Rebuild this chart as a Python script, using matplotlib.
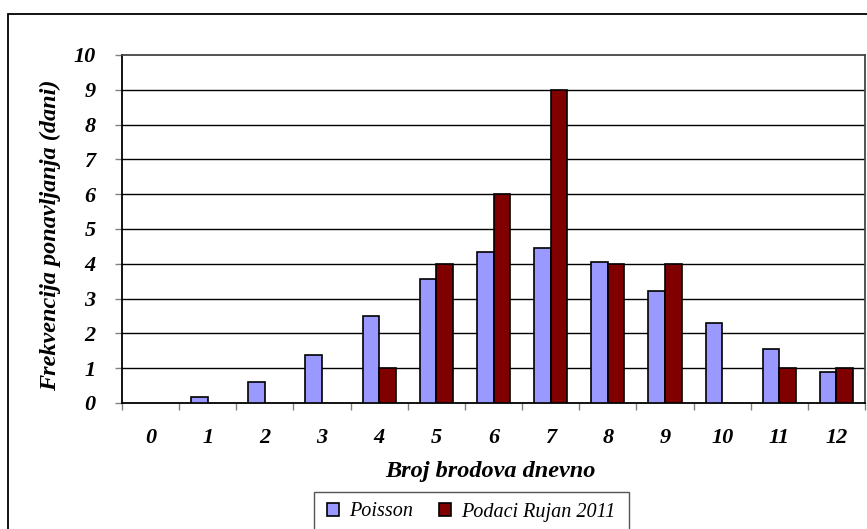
import matplotlib
matplotlib.use("Agg")
import matplotlib.pyplot as plt
import matplotlib.patches as mpatches
import numpy as np

# DATA
categories = ["0", "1", "2", "3", "4", "5", "6", "7", "8", "9", "10", "11", "12"]
poisson = [0.0, 0.18, 0.61, 1.37, 2.5, 3.56, 4.35, 4.45, 4.04, 3.21, 2.31, 1.54, 0.89]
podaci = [0, 0, 0, 0, 1, 4, 6, 9, 4, 4, 0, 1, 1]
yticks = [0, 1, 2, 3, 4, 5, 6, 7, 8, 9, 10]

W, H = 867, 529
fig = plt.figure(figsize=(W / 100, H / 100), dpi=100)

# plot area in pixels
left, top, right, bottom = 122, 55, 865, 403
ax = fig.add_axes([left / W, 1 - bottom / H, (right - left) / W, (bottom - top) / H])

x = np.arange(len(categories))
bw = 0.29
p = np.array(poisson)
d = np.array(podaci, dtype=float)
# zero height bars are not drawn (no edge line on the axis)
ax.bar((x - bw / 2)[p > 0], p[p > 0], bw, color="#9999FF", edgecolor="black", linewidth=1.2, zorder=3)
ax.bar((x + bw / 2)[d > 0], d[d > 0], bw, color="#800000", edgecolor="black", linewidth=1.2, zorder=3)

ax.set_xlim(-0.5, len(categories) - 0.5)
ax.set_ylim(0, 10)

# gridlines
for yv in yticks[1:-1]:
    ax.axhline(yv, color="black", lw=1, zorder=1)

tick_font = dict(family="Liberation Serif", weight="bold", style="italic", size=16)
ax.set_yticks(yticks)
ax.set_yticklabels([str(v) for v in yticks], fontdict=tick_font)
ax.tick_params(axis="y", length=5, width=1, pad=14, color="gray")

ax.set_xticks(x)
ax.set_xticklabels(categories, fontdict=tick_font)
ax.tick_params(axis="x", which="major", length=0, pad=18)
ax.set_xticks(np.arange(-0.5, len(categories)), minor=True)
ax.tick_params(axis="x", which="minor", length=5, width=1, color="gray")

for s in ["left", "bottom"]:
    ax.spines[s].set_color("black")
    ax.spines[s].set_linewidth(1.3)
for s in ["top", "right"]:
    ax.spines[s].set_color("#444444")
    ax.spines[s].set_linewidth(1.3)

label_font = dict(family="Liberation Serif", weight="bold", style="italic", size=17.5)
fig.text(490 / W, 1 - 472 / H, "Broj brodova dnevno", ha="center", va="center", **label_font)
fig.text(50 / W, 1 - 235 / H, "Frekvencija ponavljanja (dani)", ha="center", va="center",
         rotation=90, **label_font)

# outer chart border
fig.patches.append(mpatches.Rectangle((8 / W, -0.1), 1.2, (H - 14) / H + 0.1,
                                      transform=fig.transFigure, fill=False,
                                      edgecolor="black", lw=1.3))

# legend box
fig.patches.append(mpatches.Rectangle((314 / W, -0.1), (629 - 314) / W, (H - 492) / H + 0.1,
                                      transform=fig.transFigure, fill=False,
                                      edgecolor="#555555", lw=1.0))
handles = [mpatches.Patch(facecolor="#9999FF", edgecolor="black", lw=1.2, label="Poisson"),
           mpatches.Patch(facecolor="#800000", edgecolor="black", lw=1.2, label="Podaci Rujan 2011")]
fig.legend(handles=handles, loc="center", bbox_to_anchor=(471 / W, 1 - 512 / H), ncol=2,
           frameon=False, handlelength=0.6, handleheight=0.6, handletextpad=0.5,
           columnspacing=1.3,
           prop=dict(family="Liberation Serif", style="italic", size=14.5))

fig.savefig("out.png", dpi=100)
